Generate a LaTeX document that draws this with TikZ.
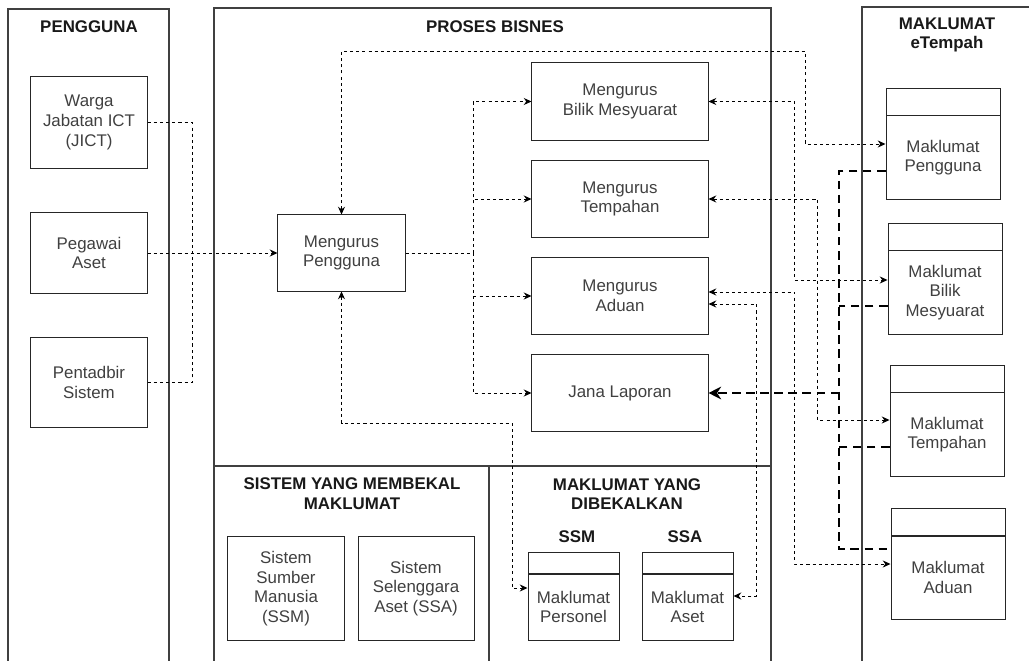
\documentclass[tikz,border=0pt]{standalone}
\usepackage{fontspec}
\setmainfont{Liberation Sans}
\usetikzlibrary{arrows.meta,positioning,calc}

\begin{document}
\begin{tikzpicture}[x=0.025cm,y=-0.025cm,
  every node/.style={font=\fontsize{12}{14}\selectfont, align=center},
  frame/.style={draw=black!75, line width=0.8pt},
  title/.style={font=\fontsize{12}{14}\selectfont\bfseries, text=black!90},
  box/.style={draw=black!85, line width=0.7pt, text=black!75, minimum width=2.9cm},
  proc/.style={box, minimum width=4.4cm, minimum height=1.925cm},
  tbl/.style={draw=black!85, line width=0.7pt, text=black!75, inner sep=0pt},
  link/.style={black, line width=0.6pt, dash pattern=on 2.2pt off 2.2pt, >={Stealth[length=5.5pt,width=5pt]}},
  feed/.style={black, line width=1.8pt, dash pattern=on 6pt off 4pt, >={Stealth[length=9pt,width=9pt]}}]
\clip (0,0) rectangle (1029,661);

% Frames
\draw[frame] (8,9) rectangle (169,670);
\draw[frame] (214,8) rectangle (771,670);
\draw[frame] (214,466) -- (771,466);
\draw[frame] (489,466) -- (489,670);
\draw[frame] (862,7) rectangle (1040,670);

% Titles
\node[title] (tpengguna) at (89,27) {PENGGUNA};
\node[title] (tproses) at (495,27) {PROSES BISNES};
\node[title] (tetempah) at (947,35) {MAKLUMAT\\eTempah};
\node[title] (tsistem) at (352,494) {SISTEM YANG MEMBEKAL\\MAKLUMAT};
\node[title] (tdibekal) at (627,494) {MAKLUMAT YANG\\DIBEKALKAN};
\node[title] (tssm) at (577,537) {SSM};
\node[title] (tssa) at (685,537) {SSA};

% Pengguna
\node[box, minimum height=2.275cm] (jict) at (89,122.5) {Warga\\Jabatan ICT\\(JICT)};
\node[box, minimum height=2cm] (pegawai) at (89,253) {Pegawai\\Aset};
\node[box, minimum height=2.225cm] (pentadbir) at (89,382.5) {Pentadbir\\Sistem};

% Proses bisnes
\node[box, minimum width=3.175cm, minimum height=1.9cm] (mpengguna) at (341.5,253) {Mengurus\\Pengguna};
\node[proc] (mbilik) at (620,101.5) {Mengurus\\Bilik Mesyuarat};
\node[proc] (mtempahan) at (620,199) {Mengurus\\Tempahan};
\node[proc] (maduan) at (620,296) {Mengurus\\Aduan};
\node[proc] (jana) at (620,393) {Jana Laporan};

% Sistem yang membekal maklumat
\node[box, minimum height=2.575cm] (ssm) at (286,588.5) {Sistem\\Sumber\\Manusia\\(SSM)};
\node[box, minimum height=2.575cm] (ssa) at (416,588.5) {Sistem\\Selenggara\\Aset (SSA)};

% Maklumat yang dibekalkan
\node[tbl, minimum width=2.275cm, minimum height=1.65cm] (personel) at (573.5,607) {Maklumat\\Personel};
\node[tbl, minimum width=2.275cm, minimum height=0.525cm, above=0pt of personel] (personelh) {};
\node[tbl, minimum width=2.275cm, minimum height=1.65cm] (aset) at (687.5,607) {Maklumat\\Aset};
\node[tbl, minimum width=2.275cm, minimum height=0.525cm, above=0pt of aset] (aseth) {};

% Maklumat eTempah
\node[tbl, minimum width=2.85cm, minimum height=2.075cm] (mkpengguna) at (943,157.5) {Maklumat\\Pengguna};
\node[tbl, minimum width=2.85cm, minimum height=0.675cm, above=0pt of mkpengguna] (mkpenggunah) {};
\node[tbl, minimum width=2.85cm, minimum height=2.075cm] (mkbilik) at (945,292.5) {Maklumat\\Bilik\\Mesyuarat};
\node[tbl, minimum width=2.85cm, minimum height=0.675cm, above=0pt of mkbilik] (mkbilikh) {};
\node[tbl, minimum width=2.85cm, minimum height=2.075cm] (mktempahan) at (947,434.5) {Maklumat\\Tempahan};
\node[tbl, minimum width=2.85cm, minimum height=0.675cm, above=0pt of mktempahan] (mktempahanh) {};
\node[tbl, minimum width=2.85cm, minimum height=2.075cm] (mkaduan) at (948,577.5) {Maklumat\\Aduan};
\node[tbl, minimum width=2.85cm, minimum height=0.675cm, above=0pt of mkaduan] (mkaduanh) {};

% Pengguna to Mengurus Pengguna
\coordinate (joinA) at (192,253);
\draw[link] (jict.east) -| (joinA);
\draw[link] (pentadbir.east) -| (joinA);
\draw[link,->] (pegawai.east) -- (mpengguna.west);

% Mengurus Pengguna to the other processes
\coordinate (busB) at (473,253);
\draw[link] (mpengguna.east) -- (busB);
\draw[link,->] (busB) |- (mbilik.west);
\draw[link,->] (busB) |- (mtempahan.west);
\draw[link,->] (busB) |- (maduan.west);
\draw[link,->] (busB) |- (jana.west);

% Mengurus Pengguna to its data
\coordinate (railA) at (805,51);
\draw[link,<->] (mpengguna.north) |- (railA) |- ($(mkpengguna.west)+(0,-13.5)$);
\coordinate (railC) at (512,423);
\draw[link,<->] (mpengguna.south) |- (railC) |- ($(personel.west)+(0,-19)$);

% Processes to eTempah data
\draw[link,<->] (mbilik.east) -- ++(86,0) |- ($(mkbilik.west)+(0,-12.5)$);
\draw[link,<->] (mtempahan.east) -- ++(109,0) |- ($(mktempahan.west)+(0,-14.5)$);
\draw[link,<->] ($(maduan.east)+(0,-4)$) -- ++(86,0) |- ($(mkaduan.west)+(0,-13.5)$);
\draw[link,<->] ($(maduan.east)+(0,8)$) -- ++(48,0) |- ($(aset.east)+(0,-11)$);

% eTempah data feeding Jana Laporan
\coordinate (busE) at (839,393);
\coordinate (inE1) at ($(mkpengguna.west)+(0,13.5)$);
\coordinate (inE2) at ($(mkbilik.west)+(0,13.5)$);
\coordinate (inE3) at ($(mktempahan.west)+(0,12.5)$);
\coordinate (inE4) at ($(mkaduan.west)+(0,-28.5)$);
\draw[feed] (inE1) -| (busE |- inE4) -- (inE4);
\draw[feed] (inE2) -- (inE2 -| busE);
\draw[feed] (inE3) -- (inE3 -| busE);
\draw[feed,->] (busE) -- (jana.east);
\end{tikzpicture}
\end{document}
